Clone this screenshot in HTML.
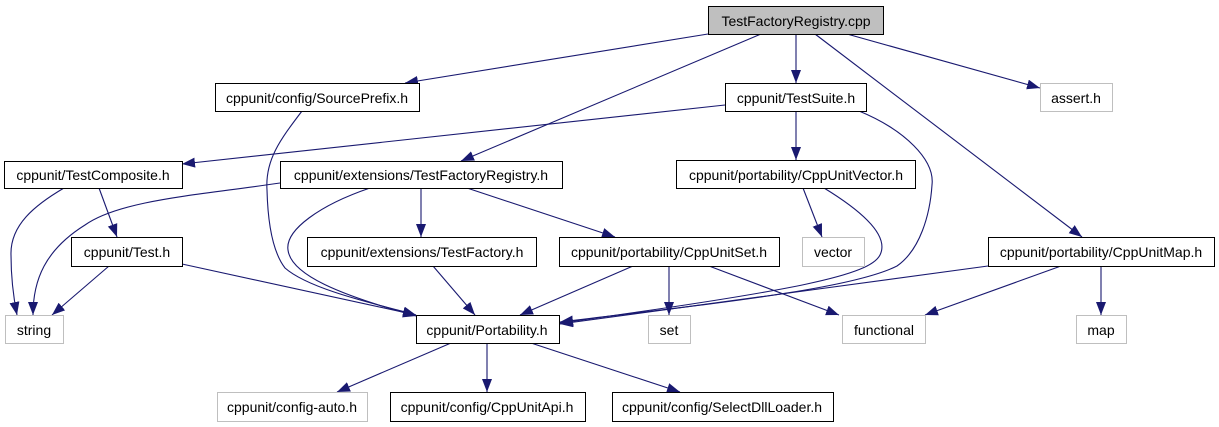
<!DOCTYPE html>
<html><head><meta charset="utf-8"><style>
html,body{margin:0;padding:0;background:#fff;}
svg{display:block;}
text{font-family:"Liberation Sans",Arial,sans-serif;font-size:14px;fill:#000;}
</style></head><body>
<svg width="1219" height="427" viewBox="0 0 1219 427" xmlns="http://www.w3.org/2000/svg">
<defs>
<marker id="a" markerUnits="userSpaceOnUse" markerWidth="14" markerHeight="11" refX="13" refY="5" orient="auto">
<path d="M0,0 L13,5 L0,10 Z" fill="#191970"/>
</marker>
</defs>
<g fill="none" stroke="#191970" stroke-width="1.1" marker-end="url(#a)">
<path d="M708,34 L405,83"/>
<path d="M761,34 L461,161"/>
<path d="M796,34 L796,83"/>
<path d="M815,34 L1082,237"/>
<path d="M847,34 L1040,88"/>
<path d="M725,105 L182,164"/>
<path d="M796,111 L796,160"/>
<path d="M859,111 C905,130 935,160 932,185 C930,215 920,250 897,266 C850,290 700,305 560,322"/>
<path d="M803,188 L822,237"/>
<path d="M824,188 C860,210 890,235 880,255 C870,275 800,290 560,323"/>
<path d="M64,188 C35,205 10,225 11,255 C11,280 14,300 17,315"/>
<path d="M99,188 L117,237"/>
<path d="M280,183 C200,195 120,200 85,225 C45,250 33,280 33,315"/>
<path d="M370,188 C320,205 285,230 288,250 C291,275 340,295 416,316"/>
<path d="M302,111 C280,140 265,160 267,190 C268,230 275,255 285,268 C310,290 380,305 416,315"/>
<path d="M421,188 L421,237"/>
<path d="M467,188 L615,237"/>
<path d="M109,266 L52,315"/>
<path d="M182,264 L416,315"/>
<path d="M433,266 L475,315"/>
<path d="M633,266 L520,315"/>
<path d="M669,266 L669,315"/>
<path d="M709,266 L839,315"/>
<path d="M988,266 L560,324"/>
<path d="M1061,266 L925,315"/>
<path d="M1101,266 L1101,315"/>
<path d="M451,343 L337,392"/>
<path d="M487,343 L487,392"/>
<path d="M531,343 L680,392"/>
</g>
<g stroke-width="1">
<rect x="708.5" y="6.5" width="175" height="28" fill="#bfbfbf" stroke="#000"/>
<rect x="215.5" y="83.5" width="204" height="28" fill="#fff" stroke="#000"/>
<rect x="725.5" y="83.5" width="141" height="28" fill="#fff" stroke="#000"/>
<rect x="1040.5" y="83.5" width="72" height="28" fill="#fff" stroke="#bfbfbf"/>
<rect x="4.5" y="161.5" width="178" height="27" fill="#fff" stroke="#000"/>
<rect x="280.5" y="161.5" width="282" height="27" fill="#fff" stroke="#000"/>
<rect x="676.5" y="160.5" width="239" height="28" fill="#fff" stroke="#000"/>
<rect x="71.5" y="237.5" width="111" height="29" fill="#fff" stroke="#000"/>
<rect x="307.5" y="237.5" width="229" height="29" fill="#fff" stroke="#000"/>
<rect x="559.5" y="237.5" width="220" height="29" fill="#fff" stroke="#000"/>
<rect x="802.5" y="237.5" width="62" height="29" fill="#fff" stroke="#bfbfbf"/>
<rect x="988.5" y="237.5" width="226" height="29" fill="#fff" stroke="#000"/>
<rect x="5.5" y="315.5" width="58" height="28" fill="#fff" stroke="#bfbfbf"/>
<rect x="416.5" y="315.5" width="143" height="28" fill="#fff" stroke="#000"/>
<rect x="648.5" y="315.5" width="42" height="28" fill="#fff" stroke="#bfbfbf"/>
<rect x="842.5" y="315.5" width="83" height="28" fill="#fff" stroke="#bfbfbf"/>
<rect x="1076.5" y="315.5" width="50" height="28" fill="#fff" stroke="#bfbfbf"/>
<rect x="217.5" y="392.5" width="150" height="29" fill="#fff" stroke="#bfbfbf"/>
<rect x="390.5" y="392.5" width="195" height="29" fill="#fff" stroke="#000"/>
<rect x="612.5" y="392.5" width="221" height="29" fill="#fff" stroke="#000"/>
</g>
<g text-anchor="middle">
<text x="796" y="26">TestFactoryRegistry.cpp</text>
<text x="317" y="103">cppunit/config/SourcePrefix.h</text>
<text x="796" y="103">cppunit/TestSuite.h</text>
<text x="1076" y="103">assert.h</text>
<text x="93" y="180">cppunit/TestComposite.h</text>
<text x="421" y="180">cppunit/extensions/TestFactoryRegistry.h</text>
<text x="796" y="180">cppunit/portability/CppUnitVector.h</text>
<text x="127" y="257">cppunit/Test.h</text>
<text x="422" y="257">cppunit/extensions/TestFactory.h</text>
<text x="669" y="257">cppunit/portability/CppUnitSet.h</text>
<text x="833" y="257">vector</text>
<text x="1101" y="257">cppunit/portability/CppUnitMap.h</text>
<text x="34" y="335">string</text>
<text x="487" y="335">cppunit/Portability.h</text>
<text x="669" y="335">set</text>
<text x="884" y="335">functional</text>
<text x="1101" y="335">map</text>
<text x="292" y="412">cppunit/config-auto.h</text>
<text x="487" y="412">cppunit/config/CppUnitApi.h</text>
<text x="722" y="412">cppunit/config/SelectDllLoader.h</text>
</g>
</svg>
</body></html>
